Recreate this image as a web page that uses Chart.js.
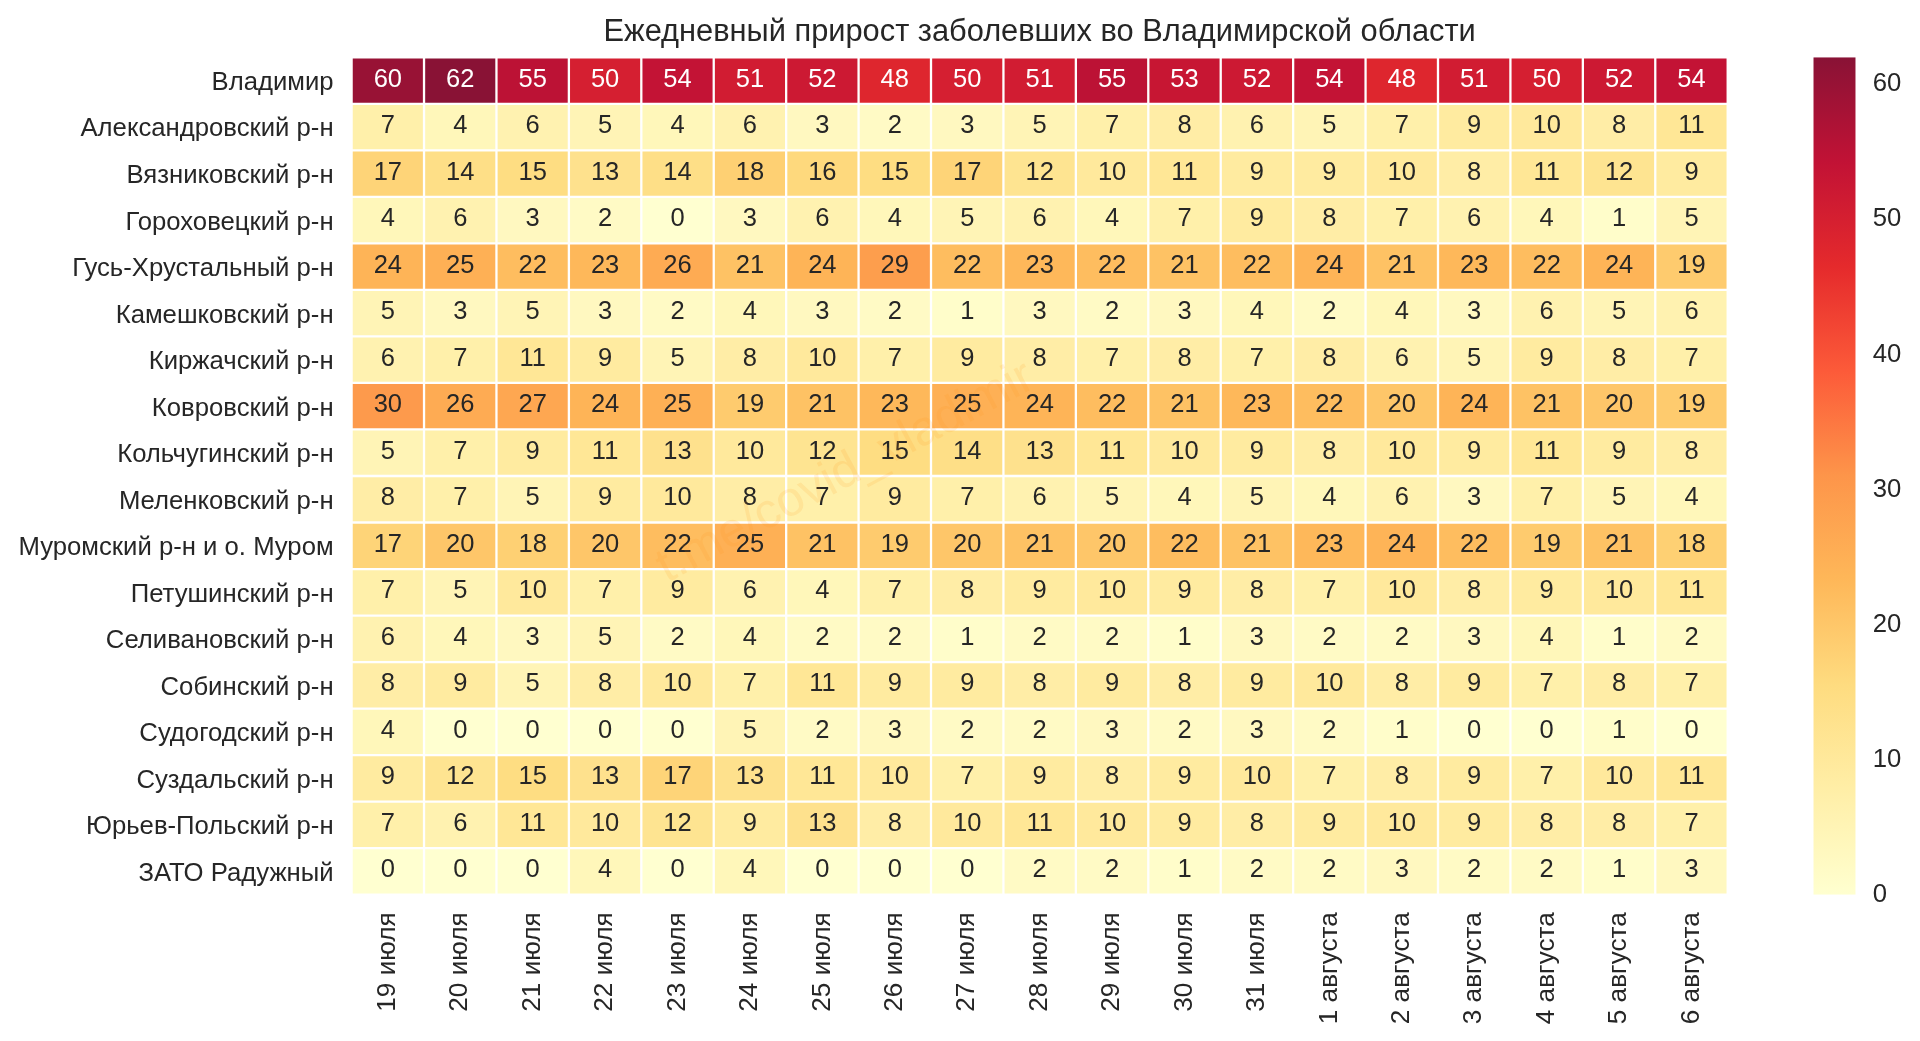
<!DOCTYPE html>
<html>
<head>
<meta charset="utf-8">
<title>Ежедневный прирост заболевших</title>
<script src="https://cdn.jsdelivr.net/npm/chart.js@4"></script>
<style>
  html, body { margin: 0; padding: 0; background: #fff; overflow: hidden; }
  canvas { position: absolute; top: 0; }
  #heat { left: 0; }
  #bar { left: 1780px; }
</style>
</head>
<body>
<canvas id="heat" width="1920" height="1041"></canvas>
<canvas id="bar" width="140" height="1041"></canvas>
<script>
const TITLE = 'Ежедневный прирост заболевших во Владимирской области';
const WATERMARK = 't.me/covid_vladimir';
const FONT = '"Liberation Sans", Arial, sans-serif';
const INK = '#262626';

const dates = ['19 июля', '20 июля', '21 июля', '22 июля', '23 июля', '24 июля', '25 июля', '26 июля', '27 июля', '28 июля',
  '29 июля', '30 июля', '31 июля', '1 августа', '2 августа', '3 августа', '4 августа', '5 августа', '6 августа'];
const regions = ['Владимир', 'Александровский р-н', 'Вязниковский р-н', 'Гороховецкий р-н', 'Гусь-Хрустальный р-н',
  'Камешковский р-н', 'Киржачский р-н', 'Ковровский р-н', 'Кольчугинский р-н', 'Меленковский р-н',
  'Муромский р-н и о. Муром', 'Петушинский р-н', 'Селивановский р-н', 'Собинский р-н', 'Судогодский р-н',
  'Суздальский р-н', 'Юрьев-Польский р-н', 'ЗАТО Радужный'];
const barTicks = [0, 10, 20, 30, 40, 50, 60];

const vladimir = [60, 62, 55, 50, 54, 51, 52, 48, 50, 51, 55, 53, 52, 54, 48, 51, 50, 52, 54];
const aleksandrov = [7, 4, 6, 5, 4, 6, 3, 2, 3, 5, 7, 8, 6, 5, 7, 9, 10, 8, 11];
const vyazniki = [17, 14, 15, 13, 14, 18, 16, 15, 17, 12, 10, 11, 9, 9, 10, 8, 11, 12, 9];
const gorokhovets = [4, 6, 3, 2, 0, 3, 6, 4, 5, 6, 4, 7, 9, 8, 7, 6, 4, 1, 5];
const gus = [24, 25, 22, 23, 26, 21, 24, 29, 22, 23, 22, 21, 22, 24, 21, 23, 22, 24, 19];
const kameshkovo = [5, 3, 5, 3, 2, 4, 3, 2, 1, 3, 2, 3, 4, 2, 4, 3, 6, 5, 6];
const kirzhach = [6, 7, 11, 9, 5, 8, 10, 7, 9, 8, 7, 8, 7, 8, 6, 5, 9, 8, 7];
const kovrov = [30, 26, 27, 24, 25, 19, 21, 23, 25, 24, 22, 21, 23, 22, 20, 24, 21, 20, 19];
const kolchugino = [5, 7, 9, 11, 13, 10, 12, 15, 14, 13, 11, 10, 9, 8, 10, 9, 11, 9, 8];
const melenki = [8, 7, 5, 9, 10, 8, 7, 9, 7, 6, 5, 4, 5, 4, 6, 3, 7, 5, 4];
const murom = [17, 20, 18, 20, 22, 25, 21, 19, 20, 21, 20, 22, 21, 23, 24, 22, 19, 21, 18];
const petushki = [7, 5, 10, 7, 9, 6, 4, 7, 8, 9, 10, 9, 8, 7, 10, 8, 9, 10, 11];
const selivanovo = [6, 4, 3, 5, 2, 4, 2, 2, 1, 2, 2, 1, 3, 2, 2, 3, 4, 1, 2];
const sobinka = [8, 9, 5, 8, 10, 7, 11, 9, 9, 8, 9, 8, 9, 10, 8, 9, 7, 8, 7];
const sudogda = [4, 0, 0, 0, 0, 5, 2, 3, 2, 2, 3, 2, 3, 2, 1, 0, 0, 1, 0];
const suzdal = [9, 12, 15, 13, 17, 13, 11, 10, 7, 9, 8, 9, 10, 7, 8, 9, 7, 10, 11];
const yuryev = [7, 6, 11, 10, 12, 9, 13, 8, 10, 11, 10, 9, 8, 9, 10, 9, 8, 8, 7];
const raduzhny = [0, 0, 0, 4, 0, 4, 0, 0, 0, 2, 2, 1, 2, 2, 3, 2, 2, 1, 3];

const rows = [vladimir, aleksandrov, vyazniki, gorokhovets, gus, kameshkovo, kirzhach, kovrov, kolchugino,
  melenki, murom, petushki, selivanovo, sobinka, sudogda, suzdal, yuryev, raduzhny];

const VMAX = 62;
const ALPHA = 0.93;
const PALETTE = [[255, 255, 204], [255, 237, 160], [254, 217, 118], [254, 178, 76], [253, 141, 60],
  [252, 78, 42], [227, 26, 28], [189, 0, 38], [128, 0, 38]];

// value -> YlOrRd colour
function cellColor (v) {
  const t = Math.min(v / VMAX, 1) * (PALETTE.length - 1);
  const i = Math.min(Math.floor(t), PALETTE.length - 2);
  const f = t - i;
  const c = PALETTE[i].map((a, k) => Math.round(a + (PALETTE[i + 1][k] - a) * f));
  return `rgba(${c[0]},${c[1]},${c[2]},${ALPHA})`;
}

// --- numbers in the cells and the faint watermark ---
const cellText = {
  id: 'cellText',
  afterDatasetsDraw (chart) {
    const c = chart.ctx;
    c.save();
    c.font = `25.5px ${FONT}`;
    c.textAlign = 'center';
    c.textBaseline = 'middle';
    chart.data.datasets.forEach((ds, r) => {
      chart.getDatasetMeta(r).data.forEach((el, col) => {
        const v = rows[r][col];
        c.fillStyle = v > 40 ? '#ffffff' : INK;
        c.fillText(String(v), el.x, (el.y + el.base) / 2 - 1);
      });
    });
    c.translate(667, 583);
    c.rotate(-28 * Math.PI / 180);
    c.font = `49px ${FONT}`;
    c.textAlign = 'left';
    c.textBaseline = 'alphabetic';
    c.fillStyle = 'rgba(255,150,20,0.13)';
    c.fillText(WATERMARK, 0, 0);
    c.restore();
  }
};

new Chart(document.getElementById('heat'), {
  type: 'bar',
  plugins: [cellText],
  data: {
    labels: dates,
    datasets: rows.map((vals, r) => ({
      label: regions[r],
      data: vals.map(() => [r, r + 1]),
      backgroundColor: vals.map(cellColor),
      borderColor: '#ffffff',
      borderWidth: 1.15,
      borderSkipped: false,
      inflateAmount: 0,
      barPercentage: 1,
      categoryPercentage: 1,
      grouped: false
    }))
  },
  options: {
    responsive: false,
    animation: false,
    devicePixelRatio: 1,
    layout: { padding: { left: 0, right: 192.3, top: 0, bottom: 0 } },
    plugins: {
      legend: { display: false },
      tooltip: { enabled: false },
      title: {
        display: true,
        text: TITLE,
        fullSize: false,
        color: INK,
        font: { family: FONT, size: 30.8, weight: 'normal' },
        padding: { top: 14, bottom: 6.3 }
      }
    },
    scales: {
      x: {
        type: 'category',
        offset: true,
        grid: { display: false, drawTicks: false },
        border: { display: false },
        ticks: { color: INK, font: { family: FONT, size: 26.2 }, maxRotation: 90, minRotation: 90, padding: 17.5, autoSkip: false },
        afterFit (s) { s.height = 1041 - 894.7; }
      },
      y: {
        type: 'linear',
        min: 0,
        max: regions.length,
        reverse: true,
        grid: { display: false, drawTicks: false },
        border: { display: false },
        afterBuildTicks (s) { s.ticks = regions.map((_, i) => ({ value: i + 0.55 })); },
        ticks: {
          color: INK,
          font: { family: FONT, size: 25.7 },
          padding: 18,
          autoSkip: false,
          callback: (value, i) => regions[i]
        },
        afterFit (s) { s.width = 351.6; }
      }
    }
  }
});

// --- colour bar ---
new Chart(document.getElementById('bar'), {
  type: 'bar',
  data: {
    labels: [''],
    datasets: [{
      data: [[0, VMAX]],
      backgroundColor (ctx) {
        const y = ctx.chart.scales.y;
        const y0 = y ? y.getPixelForValue(0) : NaN;
        const y1 = y ? y.getPixelForValue(VMAX) : NaN;
        if (!Number.isFinite(y0) || !Number.isFinite(y1)) return cellColor(0);
        const g = ctx.chart.ctx.createLinearGradient(0, y0, 0, y1);
        PALETTE.forEach((_, i) => {
          const t = i / (PALETTE.length - 1);
          g.addColorStop(t, cellColor(t * VMAX));
        });
        return g;
      },
      borderWidth: 0,
      inflateAmount: 0,
      barPercentage: 1,
      categoryPercentage: 1
    }]
  },
  options: {
    responsive: false,
    animation: false,
    devicePixelRatio: 1,
    layout: { padding: { left: 33.3, right: 0, top: 57.3, bottom: 1041 - 894.7 } },
    plugins: { legend: { display: false }, tooltip: { enabled: false } },
    scales: {
      x: { display: false, offset: true },
      y: {
        position: 'right',
        min: 0,
        max: VMAX,
        grid: { display: false, drawTicks: false },
        border: { display: false },
        afterBuildTicks (s) { s.ticks = barTicks.map(value => ({ value })); },
        ticks: { color: INK, font: { family: FONT, size: 25.7 }, padding: 17 },
        afterFit (s) { s.width = 140 - 33.3 - 42.4; }
      }
    }
  }
});
</script>
</body>
</html>
